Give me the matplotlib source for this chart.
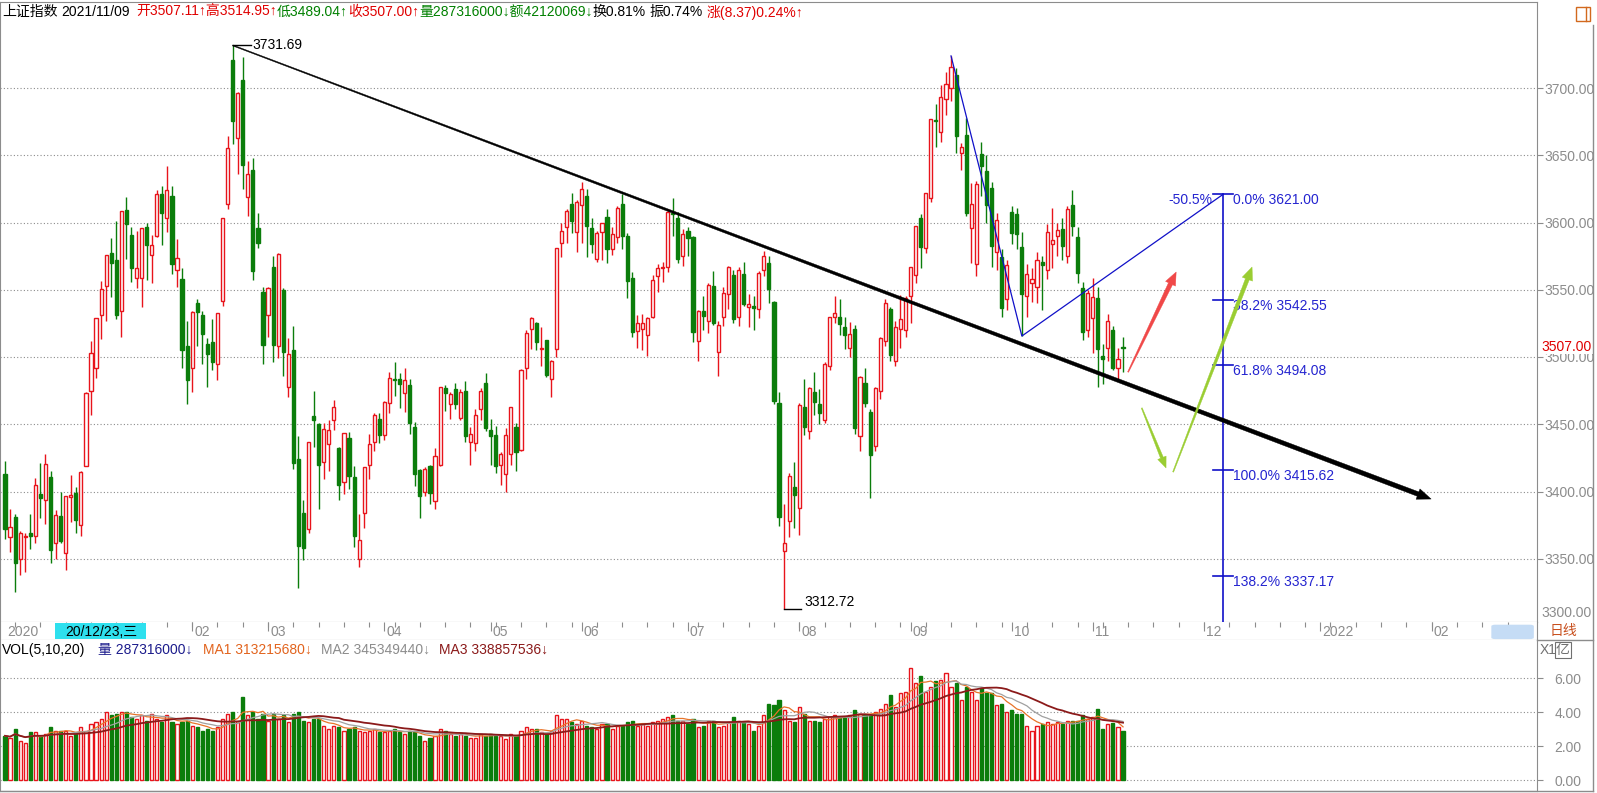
import numpy as np
import pandas as pd
import matplotlib
matplotlib.use("Agg")
import matplotlib.pyplot as plt
from matplotlib.patches import Polygon, FancyBboxPatch, Rectangle
from matplotlib.transforms import IdentityTransform

plt.rcParams['font.family'] = ['Liberation Sans', 'Noto Sans CJK SC']

# ---- daily data, 2020/12/09 .. 2021/11/09 ----
opens = [
    # Dec 2020
    3413, 3366, 3381, 3350, 3366, 3369, 3367, 3398, 3394, 3411, 3362, 3382, 3354, 3396, 3399, 3375, 3419,
    # Jan
    3474.68, 3492.19, 3530.91, 3552.91, 3577.69, 3572, 3534, 3609, 3591, 3559, 3559, 3597, 3576, 3590, 3621, 3603, 3620, 3565, 3558, 3508,
    # Feb
    3492, 3540, 3531, 3510, 3511, 3495, 3542, 3614, 3721.09, 3663, 3706, 3619, 3639, 3596, 3548,
    # Mar
    3531, 3567, 3508, 3550, 3478, 3505, 3424, 3384, 3372, 3456, 3450, 3422, 3435, 3453, 3432, 3407, 3440, 3411, 3350, 3384, 3420, 3437, 3454,
    # Apr
    3442, 3466, 3484, 3484, 3473, 3479, 3448, 3416, 3400, 3419, 3393, 3420, 3477, 3465, 3476, 3455, 3475, 3437, 3436, 3461, 3481,
    # May
    3446, 3442, 3420, 3413, 3428, 3448, 3431, 3492, 3521, 3525, 3506, 3513, 3484, 3506, 3585, 3597, 3614, 3593,
    # Jun
    3613, 3620, 3596, 3573, 3593, 3604, 3580, 3589, 3614, 3590, 3559, 3519, 3521, 3516, 3530, 3560, 3566, 3567, 3607, 3603, 3575,
    # Jul
    3594, 3589, 3512, 3534, 3527, 3553, 3504, 3530, 3547, 3561, 3530, 3562, 3537, 3538, 3536, 3565, 3570, 3541, 3466, 3356, 3378, 3403,
    # Aug
    3388, 3463, 3445, 3474, 3465, 3453, 3493, 3530, 3530, 3522, 3507, 3521, 3441, 3481, 3459, 3434, 3475, 3512, 3536, 3497, 3521, 3520,
    # Sep
    3545, 3561, 3603, 3581, 3618, 3676, 3667, 3692, 3700, 3710, 3652, 3665, 3596, 3569, 3651, 3638, 3626, 3578, 3574, 3543,
    # Oct
    3608, 3606, 3582, 3545, 3555, 3552, 3571, 3565, 3584, 3590, 3595, 3575, 3613, 3589, 3551, 3520,
    # Nov
    3529, 3544, 3501, 3507, 3520, 3492, 3507.11,
]
highs = [
    3423, 3387, 3383, 3371, 3369, 3383, 3410, 3421, 3428, 3415, 3386, 3400, 3397, 3412, 3403, 3415, 3474,
    3511.65, 3528.68, 3556.80, 3576.20, 3588.18, 3600.75, 3608.34, 3619, 3597, 3594, 3596, 3600, 3591, 3624, 3627, 3642, 3627, 3588, 3566, 3527,
    3534, 3543, 3534, 3514, 3528, 3532, 3603, 3664, 3731.69, 3697, 3723, 3646, 3648, 3607, 3552,
    3552, 3575, 3577, 3551, 3514, 3523, 3441, 3394, 3437, 3475, 3451, 3451, 3453, 3468, 3433, 3443, 3444, 3419, 3383, 3418, 3443, 3458, 3458,
    3467, 3489, 3496, 3488, 3492, 3484, 3452, 3417, 3418, 3420, 3432, 3477, 3479, 3474, 3481, 3476, 3482, 3448, 3461, 3477, 3488,
    3454, 3449, 3429, 3447, 3463, 3451, 3491, 3520, 3530, 3526, 3522, 3513, 3498, 3581, 3600, 3610, 3622, 3617,
    3630, 3625, 3603, 3594, 3600, 3610, 3597, 3612, 3621, 3592, 3563, 3531, 3532, 3530, 3561, 3569, 3571, 3610, 3618, 3608, 3595,
    3597, 3590, 3535, 3545, 3555, 3564, 3527, 3552, 3568, 3565, 3567, 3571, 3547, 3545, 3564, 3579, 3575, 3542, 3474, 3391, 3414, 3422,
    3466, 3484, 3478, 3489, 3476, 3496, 3530, 3545, 3543, 3530, 3526, 3524, 3486, 3492, 3461, 3478, 3515, 3543, 3537, 3527, 3546, 3545,
    3567, 3597, 3606, 3622, 3677, 3688, 3702, 3712, 3723.85, 3715, 3659, 3678, 3629, 3631, 3660, 3650, 3630, 3607, 3580, 3572,
    3612, 3611, 3593, 3569, 3566, 3578, 3575, 3599, 3611, 3600, 3603, 3612, 3624, 3597, 3556, 3550,
    3559, 3552, 3510, 3532, 3523, 3507, 3514.95,
]
lows = [
    3365, 3355, 3325, 3338, 3340, 3357, 3362, 3380, 3376, 3347, 3350, 3362, 3342, 3377, 3369, 3367, 3419,
    3457.21, 3484.72, 3513.03, 3526.62, 3544.89, 3528, 3515, 3573, 3556, 3551, 3537, 3557, 3555, 3589, 3583, 3593, 3562, 3552, 3492, 3465,
    3474, 3508, 3495, 3478, 3490, 3483, 3538, 3610, 3658, 3636, 3625, 3605, 3557, 3581, 3495,
    3515, 3496, 3499, 3486, 3470, 3417, 3328, 3349, 3369, 3433, 3387, 3409, 3415, 3446, 3394, 3398, 3402, 3359, 3344, 3373, 3409, 3430, 3436,
    3438, 3458, 3471, 3462, 3459, 3443, 3404, 3380, 3397, 3391, 3387, 3419, 3460, 3454, 3461, 3453, 3437, 3420, 3430, 3453, 3445,
    3420, 3414, 3405, 3400, 3420, 3415, 3430, 3484, 3506, 3505, 3493, 3485, 3470, 3500, 3574, 3585, 3592, 3578,
    3585, 3574, 3577, 3571, 3572, 3570, 3576, 3585, 3580, 3544, 3515, 3507, 3505, 3501, 3529, 3548, 3556, 3563, 3590, 3570, 3568,
    3575, 3511, 3497, 3520, 3518, 3524, 3486, 3523, 3536, 3525, 3523, 3538, 3522, 3520, 3529, 3560, 3540, 3465, 3374, 3312.72, 3366, 3373,
    3368, 3442, 3439, 3457, 3450, 3451, 3490, 3525, 3516, 3506, 3500, 3443, 3430, 3463, 3395, 3430, 3469, 3508, 3497, 3493, 3507, 3515,
    3525, 3555, 3566, 3577, 3615, 3656, 3660, 3680, 3690, 3652, 3639, 3605, 3570, 3560, 3620, 3600, 3567, 3565, 3530, 3535,
    3584, 3580, 3515.59, 3530, 3541, 3540, 3535, 3558, 3566, 3575, 3572, 3570, 3590, 3555, 3513, 3515,
    3503, 3478, 3480, 3497, 3490, 3484, 3489.04,
]
closes = [
    3371.96, 3373.28, 3347.19, 3369.12, 3367.23, 3366.98, 3404.87, 3394.90, 3420.57, 3356.78, 3382.32, 3363.11, 3396.56, 3397.29, 3379.04, 3414.45, 3473.07,
    3502.96, 3528.68, 3550.88, 3576.20, 3570.11, 3531.50, 3608.34, 3598.65, 3565.90, 3566.38, 3596.22, 3583.09, 3583.35, 3621.26, 3606.75, 3624.24, 3569.43, 3573.34, 3505.18, 3483.07,
    3533.68, 3533.44, 3517.31, 3501.86, 3496.33, 3532.44, 3603.49, 3655.09, 3675.36, 3696.17, 3642.44, 3636.36, 3564.08, 3585.05, 3509.08,
    3551.40, 3508.59, 3576.90, 3503.49, 3501.99, 3421.41, 3359.29, 3357.74, 3436.83, 3453.08, 3419.95, 3446.73, 3445.55, 3463.07, 3404.66, 3443.44, 3411.51, 3367.06, 3363.59, 3418.33, 3435.30, 3456.68, 3441.91,
    3466.33, 3484.39, 3482.61, 3479.63, 3482.55, 3450.68, 3412.95, 3396.47, 3416.68, 3398.99, 3426.62, 3477.55, 3472.94, 3472.39, 3465.11, 3474.17, 3441.17, 3442.61, 3457.07, 3474.90, 3446.86,
    3441.28, 3418.87, 3427.99, 3441.85, 3462.75, 3429.54, 3490.38, 3517.62, 3529.01, 3510.96, 3506.94, 3486.56, 3497.28, 3581.34, 3593.36, 3608.85, 3600.78, 3615.48,
    3624.71, 3597.14, 3584.22, 3591.84, 3599.54, 3580.11, 3591.40, 3610.86, 3589.75, 3556.56, 3518.33, 3525.60, 3525.10, 3529.18, 3557.41, 3566.22, 3566.65, 3607.56, 3606.37, 3573.18, 3591.20,
    3588.78, 3518.76, 3534.32, 3530.26, 3553.72, 3525.50, 3524.09, 3547.84, 3566.73, 3528.50, 3564.59, 3539.30, 3539.12, 3536.79, 3562.70, 3574.73, 3550.40, 3467.44, 3381.18, 3361.59, 3411.72, 3397.36,
    3464.29, 3447.99, 3477.22, 3466.56, 3458.23, 3494.63, 3529.93, 3532.62, 3524.74, 3516.30, 3517.34, 3446.98, 3485.29, 3465.55, 3427.33, 3477.13, 3514.47, 3540.38, 3501.66, 3522.16, 3528.15, 3543.94,
    3567.10, 3597.04, 3582.00, 3621.86, 3676.59, 3675.19, 3693.13, 3703.11, 3715.37, 3664.00, 3656.22, 3607.09, 3613.97, 3628.49, 3642.22, 3613.07, 3582.83, 3602.22, 3536.29, 3568.17,
    3592.17, 3591.71, 3546.94, 3561.76, 3558.28, 3572.37, 3568.14, 3593.15, 3587.00, 3594.78, 3582.60, 3609.86, 3597.64, 3562.31, 3518.42, 3547.34,
    3544.48, 3505.63, 3498.54, 3526.87, 3491.57, 3498.63, 3507.00,
]
# volume in 亿 (1e8)
volumes = [
    2.6, 2.5, 3.0, 2.3, 2.2, 2.8, 2.8, 2.6, 2.7, 3.1, 2.9, 2.9, 2.9, 2.6, 2.7, 3.1, 2.9,
    3.3, 3.4, 3.6, 4.0, 3.8, 3.9, 4.0, 4.0, 3.7, 3.6, 3.8, 3.5, 3.9, 3.6, 3.4, 3.8, 3.4, 3.3, 3.4, 3.5,
    3.2, 3.1, 2.9, 3.0, 2.9, 3.1, 3.6, 3.9, 4.0, 3.5, 4.9, 3.8, 4.0, 3.6, 3.9,
    3.5, 3.9, 3.6, 3.8, 3.4, 3.9, 4.0, 3.5, 3.4, 3.6, 3.6, 3.2, 3.0, 3.2, 3.1, 2.9, 3.0, 3.1, 2.9, 2.8, 2.9, 3.0, 2.8,
    2.8, 2.9, 3.0, 2.8, 2.7, 2.9, 2.8, 2.6, 2.3, 2.5, 2.6, 3.0, 2.9, 2.7, 2.6, 2.7, 2.6, 2.5, 2.5, 2.7, 2.6,
    2.7, 2.6, 2.6, 2.4, 2.7, 2.6, 2.9, 3.1, 3.0, 3.0, 2.8, 2.7, 2.9, 3.8, 3.6, 3.6, 3.4, 3.3,
    3.5, 3.2, 3.1, 3.0, 3.3, 3.3, 3.0, 3.2, 3.2, 3.4, 3.5, 3.2, 3.3, 3.2, 3.4, 3.5, 3.6, 3.7, 3.8, 3.5, 3.5,
    3.3, 3.6, 3.1, 3.2, 3.5, 3.5, 3.1, 3.2, 3.4, 3.7, 3.5, 3.4, 3.3, 2.9, 3.2, 3.8, 4.5, 4.4, 4.7, 4.1, 3.5, 3.4,
    4.3, 3.9, 3.5, 3.5, 3.4, 3.6, 3.7, 3.8, 3.7, 3.7, 3.8, 4.1, 3.9, 3.8, 3.8, 4.0, 4.2, 4.5, 5.0, 4.3, 5.1, 5.2,
    6.6, 5.7, 6.1, 5.2, 5.5, 5.8, 5.9, 6.3, 5.5, 5.7, 4.7, 5.5, 5.2, 4.7, 5.4, 5.1, 5.1, 4.4, 4.5, 4.0,
    4.1, 3.9, 3.9, 3.2, 2.9, 3.2, 3.3, 3.4, 3.3, 3.4, 3.3, 3.5, 3.5, 3.5, 3.8, 3.6,
    3.7, 4.2, 3.0, 3.3, 3.35, 3.1, 2.87316,
]

# month ticks on the date strip (index of first trading day) and labels
month_idx = [0, 37, 52, 75, 96, 114, 135, 157, 179, 199, 215, 237, 260, 282]
month_lbl = ['2020', '02', '03', '04', '05', '06', '07', '08', '09', '10', '11', '12', '2022', '02']

# fibonacci tool
fib_pct = ['0.0%', '38.2%', '61.8%', '100.0%', '138.2%']
fib_lvl = [3621.00, 3542.55, 3494.08, 3415.62, 3337.17]
fib_x = 240.8

# hand drawn arrows (index, price)
red_arrow = [(222.0, 3488.8), (231.5, 3563.2)]
green_arrow1 = [(224.7, 3462.1), (229.5, 3417.5)]
green_arrow2 = [(230.9, 3414.5), (246.5, 3566.9)]
trend_end = (281.9, 3394.4)

header = [('上证指数', 'black', 4), ('2021/11/09', 'black', 6),
          ('开3507.11↑高3514.95↑', '#e00000', 0), ('低3489.04↑', '#008000', 0),
          ('收3507.00↑', '#e00000', 0), ('量287316000↓额42120069↓', '#008000', 0),
          ('换0.81%', 'black', 4), ('振0.74%', 'black', 4), ('涨(8.37)0.24%↑', '#e00000', 0)]
vol_legend = [('VOL(5,10,20)', 'black', 13), ('量 287316000↓', '#1c1c8c', 10),
              ('MA1 313215680↓', '#e2641e', 9), ('MA2 345349440↓', '#8c8c8c', 9),
              ('MA3 338857536↓', '#8b1a1a', 0)]

# ---------------------------------------------------------------
W, H = 1597, 793
fig = plt.figure(figsize=(W / 100, H / 100), dpi=100)
fig.patch.set_facecolor('white')

def rect(x0, y0, x1, y1):
    return [x0 / W, 1 - y1 / H, (x1 - x0) / W, (y1 - y0) / H]

GRAY = '#8c8c8c'
RED = '#e8141b'
GREEN = '#0b7d0b'
DX = 5.059      # px per candle
K = 1.345       # px per index point
X0 = 5          # px of first candle
XR = 1537       # right edge of plot area

o = np.array(opens); h = np.array(highs); l = np.array(lows); c = np.array(closes)
v = np.array(volumes)
n = len(c)
idx = np.arange(n)
up = c >= o
col = np.where(up, RED, GREEN)
xlim = (-X0 / DX, (XR - X0) / DX)

# ---- price panel ----
ax = fig.add_axes(rect(0, 2, XR, 622))
ax.set_xlim(*xlim)
ax.set_ylim(3700 - (622 - 88) / K, 3700 + (88 - 2) / K)
for s in ax.spines.values():
    s.set_color(GRAY)
ax.set_xticks([])
levels = np.arange(3350, 3701, 50)
for p in levels:
    ax.axhline(p, color=GRAY, lw=0.8, ls=(0, (1, 2)), zorder=0)
ax.yaxis.tick_right()
ax.set_yticks(levels)
ax.set_yticklabels([f'{p:.2f}' for p in levels])
ax.tick_params(axis='y', length=4, color=GRAY, labelcolor=GRAY, labelsize=10, pad=1)
ax.annotate('3300.00', xy=(1, 0), xycoords='axes fraction', xytext=(55, 9),
            textcoords='offset pixels', ha='right', va='center', color=GRAY, fontsize=10)
ax.annotate(f'{c[-1]:.2f}', xy=(1, c[-1]), xycoords=('axes fraction', 'data'), xytext=(55, 1),
            textcoords='offset pixels', ha='right', va='center', color='#e00000', fontsize=10,
            bbox=dict(boxstyle='square,pad=0.05', fc='white', ec='none'), zorder=10)

ax.vlines(idx, l, h, colors=col, lw=1, zorder=2)
body_lo = np.minimum(o, c)
body_h = np.maximum(np.abs(c - o), 0.6)
ax.bar(idx[up], body_h[up], bottom=body_lo[up], width=0.62, facecolor='white',
       edgecolor=RED, lw=1, zorder=3)
ax.bar(idx[~up], body_h[~up], bottom=body_lo[~up], width=0.62, facecolor=GREEN,
       edgecolor=GREEN, lw=1, zorder=3)

# max / min labels
i_max = int(np.argmax(h)); i_min = int(np.argmin(l))
ax.plot([i_max, i_max + 18 / DX], [h[i_max]] * 2, color='black', lw=1, zorder=4)
ax.annotate(f'{h[i_max]:.2f}', xy=(i_max, h[i_max]), xytext=(20, 0), textcoords='offset pixels',
            ha='left', va='center', fontsize=10, color='black')
ax.plot([i_min, i_min + 17 / DX], [l[i_min]] * 2, color='black', lw=1, zorder=4)
ax.annotate(f'{l[i_min]:.2f}', xy=(i_min, l[i_min]), xytext=(20, 7), textcoords='offset pixels',
            ha='left', va='center', fontsize=10, color='black')

# swing lines + fibonacci
i_top = 179 + int(np.argmax(h[179:199]))
i_bot = 199 + int(np.argmin(l[199:210]))
ax.plot([i_top, i_bot, fib_x], [h[i_top], l[i_bot], fib_lvl[0]], color='#1010c8', lw=0.9, zorder=5)
ax.plot([fib_x, fib_x], [fib_lvl[0], 3200], color='#1010c8', lw=1.2, zorder=5)
for pct, lv in zip(fib_pct, fib_lvl):
    ax.plot([fib_x - 10 / DX, fib_x + 10 / DX], [lv, lv], color='#1010c8', lw=1.2, zorder=5)
    ax.annotate(f'{pct} {lv:.2f}', xy=(fib_x, lv), xytext=(10, 1), textcoords='offset pixels',
                ha='left', va='top', fontsize=10, color='#2424d0', zorder=6)
ax.annotate('-50.5%', xy=(fib_x, fib_lvl[0]), xytext=(-11, 1), textcoords='offset pixels',
            ha='right', va='top', fontsize=10, color='#2424d0', zorder=6)


def taper_arrow(p0, p1, w0, w1, head_len, head_w, color, z=7):
    a = ax.transData.transform(p0)
    b = ax.transData.transform(p1)
    d = b - a
    u = d / np.hypot(*d)
    nv = np.array([-u[1], u[0]])
    s = b - u * head_len
    pts = [a + nv * w0 / 2, s + nv * w1 / 2, s + nv * head_w / 2, b,
           s - nv * head_w / 2, s - nv * w1 / 2, a - nv * w0 / 2]
    fig.add_artist(Polygon(pts, closed=True, facecolor=color, edgecolor=color, lw=0.3,
                           transform=IdentityTransform(), zorder=z))


taper_arrow((i_max, h[i_max]), trend_end, 1.0, 4.6, 14, 11, 'black')
taper_arrow(*red_arrow, 1.0, 4.5, 13, 11, '#f04848')
taper_arrow(*green_arrow1, 1.0, 3.0, 11, 9, '#9acd32')
taper_arrow(*green_arrow2, 1.0, 4.0, 13, 11, '#9acd32')

# ---- date strip ----
axd = fig.add_axes(rect(0, 622, XR, 640))
axd.set_xlim(*xlim)
axd.set_ylim(1, 0)
axd.set_xticks([]); axd.set_yticks([])
for s in axd.spines.values():
    s.set_color(GRAY)
axd.spines['top'].set_visible(False)
axd.vlines(np.arange(2, 300, 5), 0, 0.25, color=GRAY, lw=0.8)
axd.vlines(month_idx[1:], 0, 0.5, color=GRAY, lw=0.8)
for mi, ml in zip(month_idx, month_lbl):
    axd.annotate(ml, xy=(mi, 0.55), xytext=(2, 0), textcoords='offset pixels',
                 ha='left', va='center', fontsize=10, color=GRAY)
axd.add_patch(FancyBboxPatch((9.8, 0.08), 18.0, 0.88, boxstyle='square,pad=0',
                             fc='#2ee0ee', ec='none', zorder=3))
axd.text(19.0, 0.55, '20/12/23,三', ha='center', va='center', fontsize=10, color='black', zorder=4)
axd.add_patch(FancyBboxPatch((293.8, 0.15), 8.4, 0.8, boxstyle='round,pad=0,rounding_size=0.8',
                             fc='#c5dcf5', ec='none', zorder=3, mutation_aspect=0.1))

# ---- volume panel ----
axv = fig.add_axes(rect(0, 640, XR, 791))
axv.set_xlim(*xlim)
axv.set_ylim(-(791 - 780) / 17, (780 - 640) / 17)
for s in axv.spines.values():
    s.set_color(GRAY)
axv.spines['top'].set_visible(False)
axv.set_xticks([])
for g in [0, 2, 4, 6]:
    axv.axhline(g, color=GRAY, lw=0.8, ls=(0, (1, 2)), zorder=0)
axv.yaxis.tick_right()
axv.set_yticks([0, 2, 4, 6])
axv.set_yticklabels(['0.00', '2.00', '4.00', '6.00'])
axv.tick_params(axis='y', length=4, color=GRAY, labelcolor=GRAY, labelsize=10, pad=8.6)
axv.bar(idx[up], v[up], width=0.62, facecolor='white', edgecolor=RED, lw=1, zorder=2)
axv.bar(idx[~up], v[~up], width=0.62, facecolor=GREEN, edgecolor=GREEN, lw=1, zorder=2)
vs = pd.Series(v)
axv.plot(idx, vs.rolling(5, min_periods=1).mean(), color='#e8742a', lw=0.9, zorder=3)
axv.plot(idx, vs.rolling(10, min_periods=1).mean(), color='#a0a0a0', lw=0.9, zorder=3)
axv.plot(idx, vs.rolling(20, min_periods=1).mean(), color='#8b1a1a', lw=1.3, zorder=3)

# ---- texts ----
renderer = fig.canvas.get_renderer()


def draw_runs(runs, x, y):
    for s, color, gap in runs:
        t = fig.text(x / W, 1 - y / H, s, color=color, fontsize=10, ha='left', va='center')
        x += t.get_window_extent(renderer=renderer).width + gap


draw_runs(header, 2, 12)
draw_runs(vol_legend, 2, 650)

fig.text(1563 / W, 1 - 631 / H, '日线', color='#c8501e', fontsize=10, ha='center', va='center')
fig.text(1540 / W, 1 - 650 / H, 'X1', color='#707070', fontsize=10, ha='left', va='center')
fig.text(1556 / W, 1 - 650 / H, '亿', color='#707070', fontsize=10, ha='left', va='center',
         bbox=dict(boxstyle='square,pad=0.05', fc='none', ec='#707070', lw=0.8))

# right column frame, top icon
fig.add_artist(plt.Line2D([1593 / W, 1593 / W], [1 - 25 / H, 1 - 791 / H], color=GRAY, lw=1))
fig.add_artist(plt.Line2D([0, 1593 / W], [1 - 791 / H, 1 - 791 / H], color=GRAY, lw=1))
fig.add_artist(plt.Line2D([XR / W, 1593 / W], [1 - 640 / H, 1 - 640 / H], color=GRAY, lw=1))
fig.add_artist(Rectangle((1576 / W, 1 - 21 / H), 14 / W, 14 / H, fill=False, ec='#d2691e', lw=1))
fig.add_artist(plt.Line2D([1586 / W, 1586 / W], [1 - 21 / H, 1 - 7 / H], color='#d2691e', lw=1))

fig.savefig('out.png', dpi=100)
